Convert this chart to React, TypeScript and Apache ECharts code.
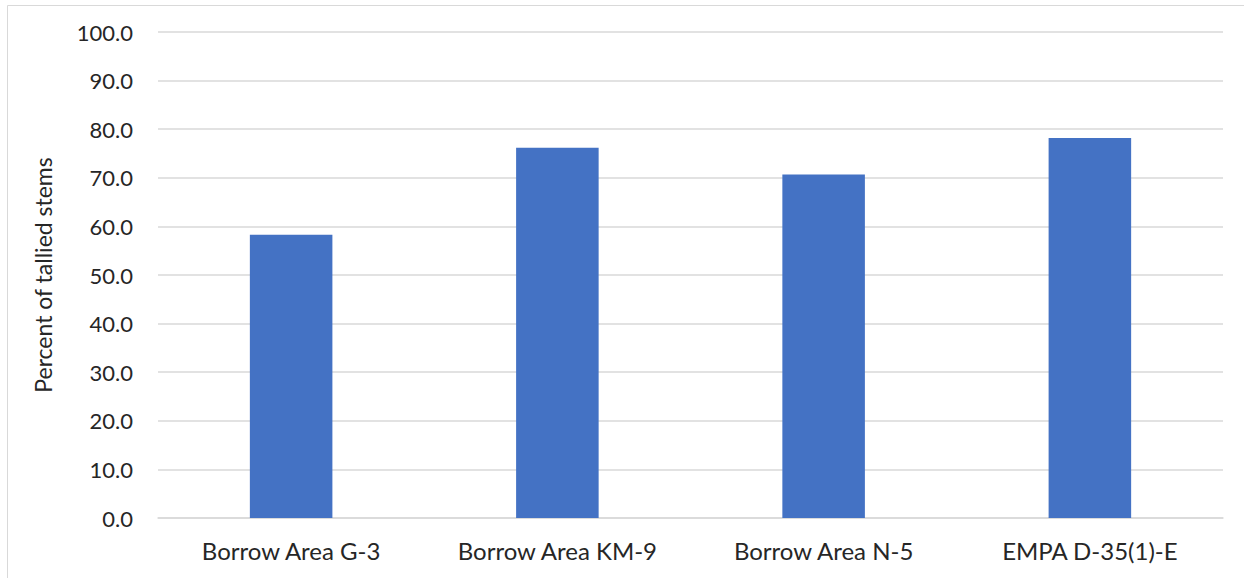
import React, { useEffect, useRef } from "react";
import * as echarts from "echarts";

const categories = ["Borrow Area G-3", "Borrow Area KM-9", "Borrow Area N-5", "EMPA D-35(1)-E"];
const values = [58.3, 76.2, 70.7, 78.2];
const yAxisName = "Percent of tallied stems";

export default function App() {
  const ref = useRef<HTMLDivElement>(null);
  useEffect(() => {
    const chart = echarts.init(ref.current!, null, { renderer: "svg" });
    const font = "Lato, 'Noto Sans', sans-serif";
    chart.setOption({
      animation: false,
      backgroundColor: "#ffffff",
      graphic: [
        {
          type: "rect",
          shape: { x: 7.5, y: 5.5, width: 1260, height: 620 },
          style: { fill: "none", stroke: "#d9d9d9", lineWidth: 1 },
          silent: true,
        },
      ],
      grid: { left: 158, right: 21, top: 32, bottom: 60 },
      xAxis: {
        type: "category",
        data: categories,
        axisLine: { show: true, lineStyle: { color: "#d9d9d9", width: 1.5 } },
        axisTick: { show: false },
        axisLabel: { color: "#262626", fontSize: 24, fontFamily: font, margin: 20 },
      },
      yAxis: {
        type: "value",
        min: 0,
        max: 100,
        interval: 10,
        name: yAxisName,
        nameLocation: "middle",
        nameGap: 104,
        nameTextStyle: { color: "#262626", fontSize: 23, fontFamily: font },
        axisLine: { show: false },
        axisTick: { show: false },
        splitLine: { lineStyle: { color: "#d9d9d9", width: 1.5 } },
        axisLabel: {
          color: "#262626",
          fontSize: 22,
          fontFamily: font,
          margin: 25,
          formatter: (v: number) => v.toFixed(1),
        },
      },
      series: [
        {
          type: "bar",
          data: values,
          barWidth: "31%",
          itemStyle: { color: "#4472c4" },
        },
      ],
    });
    return () => chart.dispose();
  }, []);
  return (
    <div
      ref={ref}
      style={{ position: "fixed", left: 0, top: 0, width: 1244, height: 578 }}
    />
  );
}
